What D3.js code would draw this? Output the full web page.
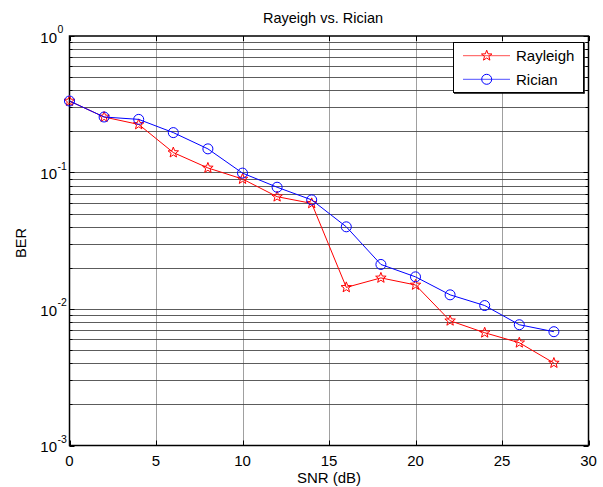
<!DOCTYPE html>
<html><head><meta charset="utf-8">
<script src="https://cdn.jsdelivr.net/npm/d3@7"></script>
<style>body{margin:0;background:#fff}svg{display:block;font-family:"Liberation Sans",Arial,sans-serif}</style>
</head><body><svg id="c" width="603" height="487"></svg>
<script>
const snr = [0,2,4,6,8,10,12,14,16,18,20,22,24,26,28];
const rayleigh = [0.334,0.255,0.225,0.140,0.108,0.0896,0.0665,0.0594,0.0144,0.0169,0.0150,0.0082,0.0067,0.00566,0.00402];
const rician = [0.334,0.255,0.245,0.196,0.149,0.099,0.078,0.063,0.040,0.0212,0.0172,0.0127,0.0106,0.00767,0.00682];
const xTicks = [0,5,10,15,20,25,30];
const yDecades = [-3,-2,-1,0];
const titleText = "Rayeigh vs. Rician";
const xLabel = "SNR (dB)";
const yLabel = "BER";
const seriesNames = ["Rayleigh","Rician"];

const svg = d3.select("#c");
const L = 69.5, R = 588.5, T = 36, B = 445.5;
const x = d3.scaleLinear().domain([0,30]).range([L,R]);
const y = d3.scaleLog().domain([1e-3,1]).range([B,T]);

const minors = [];
yDecades.slice(0,-1).forEach(d=>{for(let k=2;k<=9;k++) minors.push(k*Math.pow(10,d));});
const majorsY = yDecades.map(d=>Math.pow(10,d));

const g = svg.append("g");
g.selectAll(".vg").data(xTicks.slice(1,-1)).join("line")
  .attr("x1",d=>Math.round(x(d))+0.5).attr("x2",d=>Math.round(x(d))+0.5)
  .attr("y1",T).attr("y2",B).attr("stroke","#a0a0a0").attr("stroke-width",1);
g.selectAll(".hg").data(minors.concat(majorsY.slice(1,-1))).join("line")
  .attr("x1",L).attr("x2",R)
  .attr("y1",d=>Math.round(y(d))+0.5).attr("y2",d=>Math.round(y(d))+0.5)
  .attr("stroke","#404040").attr("stroke-width",1).attr("stroke-opacity",0.85);

const tk = svg.append("g").attr("stroke","#000").attr("stroke-width",1);
xTicks.forEach(d=>{
  const px = Math.round(x(d))+0.5;
  tk.append("line").attr("x1",px).attr("x2",px).attr("y1",B).attr("y2",B-5);
  tk.append("line").attr("x1",px).attr("x2",px).attr("y1",T).attr("y2",T+5);
});
majorsY.forEach(d=>{
  const py = Math.round(y(d))+0.5;
  tk.append("line").attr("x1",L).attr("x2",L+5).attr("y1",py).attr("y2",py);
  tk.append("line").attr("x1",R).attr("x2",R-5).attr("y1",py).attr("y2",py);
});
minors.forEach(d=>{
  const py = Math.round(y(d))+0.5;
  tk.append("line").attr("x1",L).attr("x2",L+3).attr("y1",py).attr("y2",py);
  tk.append("line").attr("x1",R).attr("x2",R-3).attr("y1",py).attr("y2",py);
});
svg.append("rect").attr("x",L).attr("y",T).attr("width",R-L).attr("height",B-T)
  .attr("fill","none").attr("stroke","#000").attr("stroke-width",1.5);

svg.append("g").selectAll("text").data(xTicks).join("text")
  .attr("x",d=>x(d)).attr("y",B+20).attr("text-anchor","middle")
  .attr("font-size",15).text(d=>d);
const yl = svg.append("g").selectAll("g").data(yDecades).join("g")
  .attr("transform",d=>`translate(${L-12.5},${y(Math.pow(10,d))})`);
yl.append("text").attr("y",6.5).attr("text-anchor","end").attr("font-size",15).text("10");
yl.append("text").attr("x",0.5).attr("y",-3).attr("font-size",10.5).text(d=>d);

svg.append("text").attr("x",323).attr("y",23).attr("text-anchor","middle").attr("font-size",14.5).text(titleText);
svg.append("text").attr("x",329).attr("y",483).attr("text-anchor","middle").attr("font-size",15).text(xLabel);
svg.append("text").attr("transform","translate(26,243) rotate(-90)").attr("text-anchor","middle").attr("font-size",14.5).text(yLabel);

function starPath(r){
  const pts=[];
  for(let i=0;i<10;i++){
    const a=-Math.PI/2+i*Math.PI/5;
    const rr=i%2===0?r:r*0.42;
    pts.push([rr*Math.cos(a),rr*Math.sin(a)]);
  }
  return "M"+pts.map(p=>p[0].toFixed(2)+","+p[1].toFixed(2)).join("L")+"Z";
}
const line = d3.line().x(d=>x(d[0])).y(d=>y(d[1]));
const ray = snr.map((s,i)=>[s,rayleigh[i]]);
const ric = snr.map((s,i)=>[s,rician[i]]);

svg.append("path").datum(ray).attr("d",line).attr("fill","none").attr("stroke","#ff0000").attr("stroke-width",1);
svg.append("g").selectAll("path").data(ray).join("path")
  .attr("transform",d=>`translate(${x(d[0])},${y(d[1])})`).attr("d",starPath(5.5))
  .attr("fill","none").attr("stroke","#ff0000").attr("stroke-width",1);
svg.append("path").datum(ric).attr("d",line).attr("fill","none").attr("stroke","#0000ff").attr("stroke-width",1);
svg.append("g").selectAll("circle").data(ric).join("circle")
  .attr("cx",d=>x(d[0])).attr("cy",d=>y(d[1])).attr("r",5)
  .attr("fill","none").attr("stroke","#0000ff").attr("stroke-width",1);

const lg = svg.append("g");
lg.append("rect").attr("x",453.5).attr("y",42.5).attr("width",130).attr("height",50)
  .attr("fill","#fff").attr("stroke","#000").attr("stroke-width",1);
lg.append("line").attr("x1",584).attr("x2",584).attr("y1",43).attr("y2",93.5).attr("stroke","#000").attr("stroke-width",1.5);
lg.append("line").attr("x1",454).attr("x2",584.5).attr("y1",93).attr("y2",93).attr("stroke","#000").attr("stroke-width",1.5);
const ly=[55.7,79.3];
lg.append("line").attr("x1",463).attr("x2",510).attr("y1",ly[0]).attr("y2",ly[0]).attr("stroke","#ff5050");
lg.append("path").attr("transform",`translate(486.7,${ly[0]})`).attr("d",starPath(5.5)).attr("fill","none").attr("stroke","#ff0000");
lg.append("line").attr("x1",463).attr("x2",510).attr("y1",ly[1]).attr("y2",ly[1]).attr("stroke","#5050ff");
lg.append("circle").attr("cx",486.7).attr("cy",ly[1]).attr("r",5).attr("fill","none").attr("stroke","#0000ff");
lg.selectAll(".lt").data(seriesNames).join("text").attr("x",516).attr("y",(d,i)=>ly[i]+5.5)
  .attr("font-size",15).text(d=>d);
</script></body></html>
